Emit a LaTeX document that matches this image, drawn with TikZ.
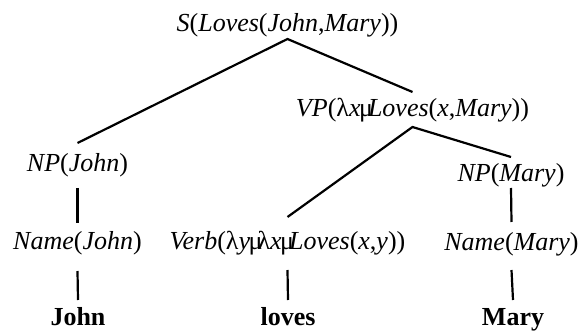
\documentclass[tikz,border=0pt]{standalone}
\usepackage{fontspec}
\setmainfont{Liberation Serif}[UprightFont=Liberation Serif, ItalicFont=Liberation Serif Italic, BoldFont=Liberation Serif Bold]
\newcommand{\ii}[1]{\textit{#1}}
\newcommand{\lam}{λ}
\newcommand{\dotg}{\kern-1.5ptμ\kern-5pt}
\begin{document}
\begin{tikzpicture}[x=1pt,y=-1pt,
  lbl/.style={anchor=base,inner sep=0pt,outer sep=0pt,text height=18pt,text depth=5pt,font=\fontsize{26}{30}\selectfont},
  word/.style={lbl,text depth=0pt,font=\fontsize{26}{30}\selectfont\bfseries},
  edge/.style={line width=2.2pt}]
\useasboundingbox (0,0) rectangle (581,331);
\node[lbl] (S) at (287.5,32) {\ii{S}(\ii{Loves}(\ii{John},\ii{Mary}))};
\node[lbl] (VP) at (412.5,117) {\ii{VP}(\lam\ii{x}\dotg\ii{Loves}(\ii{x},\ii{Mary}))};
\node[lbl] (NPJ) at (77.5,172) {\ii{NP}(\ii{John})};
\node[lbl] (NPM) at (511,182) {\ii{NP}(\ii{Mary})};
\node[lbl] (NameJ) at (77.5,249) {\ii{Name}(\ii{John})};
\node[lbl] (Verb) at (287.5,250) {\ii{Verb}(\lam\ii{y}\dotg\lam\ii{x}\dotg\ii{Loves}(\ii{x},\ii{y}))};
\node[lbl] (NameM) at (511.5,251) {\ii{Name}(\ii{Mary})};
\node[word] (John) at (78,325) {John};
\node[word] (loves) at (288,325) {loves};
\node[word] (Mary) at (513,325) {Mary};
\draw[edge] ([yshift=11pt]NPJ.north) -- ([yshift=-2pt]S.south) -- ([yshift=7pt]VP.north);
\draw[edge] ([yshift=15pt]Verb.north) -- ([yshift=-5pt]VP.south) -- ([yshift=7pt]NPM.north);
\draw[edge] ([yshift=-11pt]NPJ.south) -- ([yshift=8pt]NameJ.north);
\draw[edge] ([yshift=-1pt]NPM.south) -- ([yshift=11pt]NameM.north);
\draw[edge] ([yshift=-17pt]NameJ.south) -- ([yshift=7pt]John.north);
\draw[edge] ([yshift=-15pt]Verb.south) -- ([yshift=7pt]loves.north);
\draw[edge] ([yshift=-14pt]NameM.south) -- ([yshift=7pt]Mary.north);
\end{tikzpicture}
\end{document}
